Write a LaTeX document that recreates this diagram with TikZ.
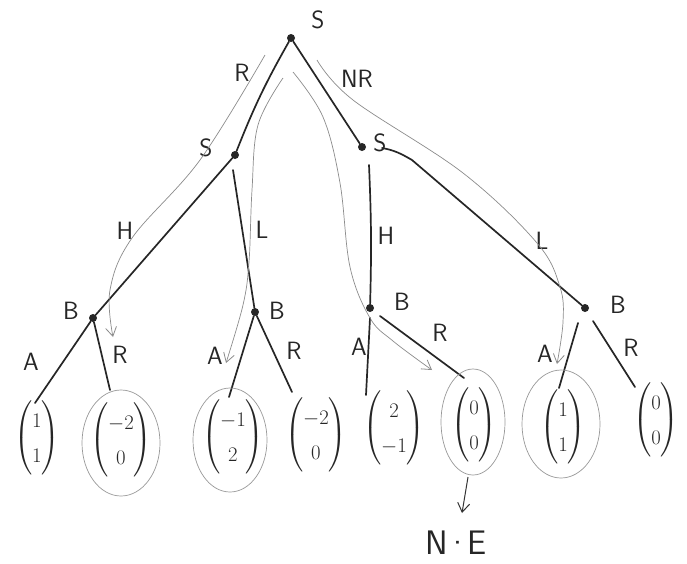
\documentclass[tikz,border=0pt]{standalone}
\usepackage{amsmath}
\usetikzlibrary{arrows.meta}
\begin{document}
\begin{tikzpicture}[x=1pt,y=-1pt,
  dot/.style={circle,fill=black!85,inner sep=0pt,minimum size=8pt},
  branch/.style={line width=1.7pt,draw=black!85,line cap=round},
  trace/.style={draw=black!45,line width=0.7pt,
    -{Straight Barb[length=9pt,width=11pt,line width=0.8pt]}},
  ring/.style={draw=black!40,line width=0.7pt},
  lbl/.style={font=\sffamily\fontsize{25}{28}\selectfont,text=black!85,inner sep=0pt},
  pay/.style={font=\fontsize{22}{26}\selectfont,text=black!85,inner sep=0pt}]
\useasboundingbox[fill=white] (0,0) rectangle (687,563);

% decision nodes
\node[dot] (r)   at (291,38) {};
\node[dot] (sL)  at (235,155) {};
\node[dot] (sR)  at (362,147) {};
\node[dot] (bLL) at (93,318) {};
\node[dot] (bLR) at (255,312) {};
\node[dot] (bRL) at (370,308) {};
\node[dot] (bRR) at (585,308) {};

% player labels
\node[lbl] (tr)   at (318,20)  {S};
\node[lbl] (tsL)  at (206,148) {S};
\node[lbl] (tsR)  at (380,143) {S};
\node[lbl] (tbLL) at (71,311)  {B};
\node[lbl] (tbLR) at (277,311) {B};
\node[lbl] (tbRL) at (402,302) {B};
\node[lbl] (tbRR) at (618,305) {B};

% payoff vectors
\renewcommand{\arraystretch}{1.35}
\node[pay] (p1) at (37,438)  {$\begin{pmatrix}1\\1\end{pmatrix}$};
\node[pay] (p2) at (121,440) {$\begin{pmatrix}-2\\0\end{pmatrix}$};
\node[pay] (p3) at (233,437) {$\begin{pmatrix}-1\\2\end{pmatrix}$};
\node[pay] (p4) at (316,435) {$\begin{pmatrix}-2\\0\end{pmatrix}$};
\node[pay] (p5) at (394,428) {$\begin{pmatrix}2\\-1\end{pmatrix}$};
\node[pay] (p6) at (474,425) {$\begin{pmatrix}0\\0\end{pmatrix}$};
\node[pay] (p7) at (563,427) {$\begin{pmatrix}1\\1\end{pmatrix}$};
\node[pay] (p8) at (656,420) {$\begin{pmatrix}0\\0\end{pmatrix}$};

% start and end points of the hand-drawn branches
\coordinate (sLb)  at (233,170);
\coordinate (sRh)  at (369,165);
\coordinate (sRl)  at (382,148);
\coordinate (sRk)  at (412,160);
\coordinate (bRLa) at (370,318);
\coordinate (bRLr) at (380,316);
\coordinate (bRRa) at (578,323);
\coordinate (bRRr) at (593,321);
\coordinate (eLLa) at (35,403);
\coordinate (eLLr) at (110,390);
\coordinate (eLRa) at (229,397);
\coordinate (eLRr) at (292,392);
\coordinate (eRLa) at (366,395);
\coordinate (eRLr) at (464,378);
\coordinate (eRRa) at (559,388);
\coordinate (eRRr) at (635,387);

% tree branches
\draw[branch] (r) to[bend right=4] (sL);
\draw[branch] (r) -- (sR);
\draw[branch] (sL) -- (bLL);
\draw[branch] (sLb) -- (bLR);
\draw[branch] (sRh) to[bend left=2] (bRL);
\draw[branch] (sRl) to[out=-10,in=150] (sRk) -- (bRR);
\draw[branch] (bLL) -- (eLLa);
\draw[branch] (bLL) -- (eLLr);
\draw[branch] (bLR) -- (eLRa);
\draw[branch] (bLR) -- (eLRr);
\draw[branch] (bRLa) -- (eRLa);
\draw[branch] (bRLr) -- (eRLr);
\draw[branch] (bRRa) -- (eRRa);
\draw[branch] (bRRr) -- (eRRr);

% action labels
\node[lbl] (aR)   at (242,73)  {R};
\node[lbl] (aNR)  at (357,79)  {NR};
\node[lbl] (aH1)  at (125,231) {H};
\node[lbl] (aL1)  at (262,230) {L};
\node[lbl] (aH2)  at (386,236) {H};
\node[lbl] (aL2)  at (542,241) {L};
\node[lbl] (aA1)  at (31,362)  {A};
\node[lbl] (aR1)  at (120,355) {R};
\node[lbl] (aA2)  at (215,356) {A};
\node[lbl] (aR2)  at (294,351) {R};
\node[lbl] (aA3)  at (359,347) {A};
\node[lbl] (aR3)  at (440,333) {R};
\node[lbl] (aA4)  at (545,354) {A};
\node[lbl] (aR4)  at (631,348) {R};

% equilibrium choices circled
\draw[ring] (p2.center) ++(0,3) ellipse [x radius=39,y radius=53];
\draw[ring] (p3.center) ++(-3,3) ellipse [x radius=37,y radius=52];
\draw[ring] (p6.center) ++(-1,-3) ellipse [x radius=32,y radius=53];
\draw[ring] (p7.center) ++(-2,-3) ellipse [x radius=39,y radius=54];

% backward-induction traces
\coordinate (g1a) at (265,55);
\coordinate (g1b) at (113,337);
\draw[trace] plot[smooth,tension=0.6] coordinates
  {(g1a) (200,160) (132,238) (110,290) (g1b)};
\coordinate (g2a) at (283,78);
\coordinate (g2b) at (226,363);
\draw[trace] plot[smooth,tension=0.6] coordinates
  {(g2a) (258,125) (252,190) (249,262) (243,305) (g2b)};
\coordinate (g3a) at (293,72);
\coordinate (g3b) at (432,370);
\draw[trace] plot[smooth,tension=0.6] coordinates
  {(g3a) (323,117) (340,183) (350,267) (370,318) (393,341) (g3b)};
\coordinate (g4a) at (317,60);
\coordinate (g4b) at (557,364);
\draw[trace] plot[smooth,tension=0.6] coordinates
  {(g4a) (353,100) (463,173) (537,243) (560,287) (563,322) (g4b)};

% Nash equilibrium marker
\node[lbl,font=\sffamily\fontsize{34}{38}\selectfont] (ne) at (456,543)
  {N\kern-3pt\textperiodcentered\kern-3pt E};
\coordinate (neTop) at (462,513);
\coordinate (neFrom) at (468,477);
\draw[draw=black!80,line width=1pt,-{Straight Barb[length=9pt,width=12pt,line width=1pt]}]
  (neFrom) -- (neTop);
\end{tikzpicture}
\end{document}
